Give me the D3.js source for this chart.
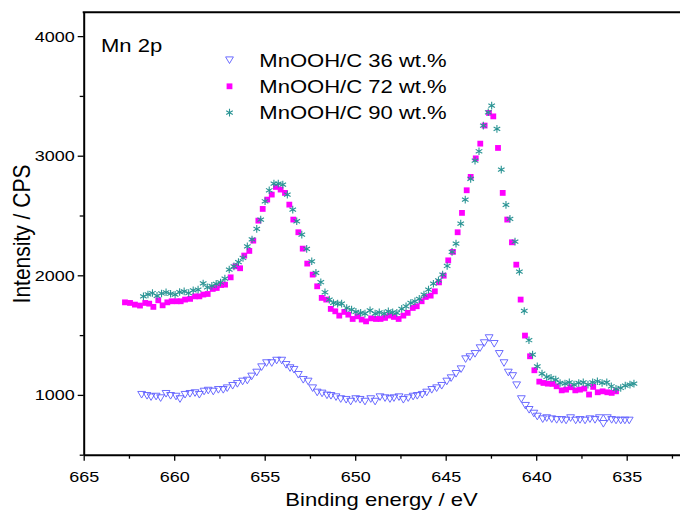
<!DOCTYPE html>
<html>
<head>
<meta charset="utf-8">
<script src="https://cdn.jsdelivr.net/npm/d3@7"></script>
<style>
  html, body { margin: 0; padding: 0; background: #fff; }
  svg { display: block; font-family: "Liberation Sans", Arial, sans-serif; }
</style>
</head>
<body>
<div id="chart"></div>
<script>
// readings: [binding energy (eV), intensity (CPS)]
const mn36 = [
  [661.8,1003],[661.5,994],[661.28,983],[661.0,988],[660.75,975],[660.45,1011],[660.2,994],[659.9,988],
  [659.68,967],[659.4,1003],[659.13,1011],[658.85,1017],[658.61,1003],[658.35,1030],[658.12,1038],[657.84,1030],
  [657.56,1044],[657.29,1044],[657.07,1058],[656.77,1078],[656.51,1094],[656.22,1114],[655.96,1122],[655.72,1156],
  [655.44,1189],[655.17,1234],[654.9,1268],[654.61,1268],[654.34,1289],[654.06,1289],[653.82,1253],[653.6,1226],
  [653.38,1212],[653.14,1170],[652.87,1128],[652.6,1114],[652.35,1058],[652.1,1022],[651.83,1014],[651.56,998],
  [651.34,994],[651.06,983],[650.8,967],[650.5,961],[650.25,946],[649.97,967],[649.73,961],[649.46,946],
  [649.14,967],[648.9,946],[648.63,983],[648.35,975],[648.08,967],[647.86,975],[647.58,983],[647.34,961],
  [647.07,975],[646.8,988],[646.57,994],[646.3,1003],[646.05,1022],[645.77,1044],[645.5,1058],[645.22,1078],
  [644.94,1114],[644.7,1142],[644.43,1178],[644.15,1217],[643.9,1301],[643.66,1318],[643.38,1345],[643.1,1393],
  [642.87,1435],[642.6,1477],[642.32,1429],[642.04,1345],[641.78,1268],[641.54,1189],[641.3,1160],[641.08,1083],
  [640.82,967],[640.59,911],[640.39,877],[640.13,846],[639.94,821],[639.64,799],[639.42,808],[639.14,799],
  [638.87,793],[638.59,793],[638.35,788],[638.1,808],[637.82,788],[637.58,793],[637.3,788],[637.03,799],
  [636.75,793],[636.51,808],[636.29,760],[636.07,808],[635.83,793],[635.59,788],[635.33,788],[635.1,788],
  [634.86,788]
];

const mn72 = [
  [662.72,1774],[662.44,1769],[662.17,1755],[661.89,1747],[661.6,1769],[661.38,1763],[661.15,1736],[660.88,1791],
  [660.64,1749],[660.38,1774],[660.14,1783],[659.86,1783],[659.64,1783],[659.4,1797],[659.12,1803],[658.85,1824],
  [658.61,1824],[658.39,1839],[658.15,1844],[657.87,1886],[657.65,1894],[657.41,1919],[657.19,1922],[656.88,1983],
  [656.62,2075],[656.36,2059],[656.13,2165],[655.85,2204],[655.63,2290],[655.35,2457],[655.11,2555],[654.86,2633],
  [654.61,2675],[654.38,2739],[654.12,2717],[653.88,2689],[653.64,2591],[653.42,2466],[653.14,2360],[652.9,2223],
  [652.65,2098],[652.35,2006],[652.1,1908],[651.85,1811],[651.6,1797],[651.35,1719],[651.1,1699],[650.88,1663],
  [650.6,1694],[650.38,1671],[650.14,1635],[649.88,1657],[649.64,1630],[649.4,1615],[649.12,1640],[648.85,1635],
  [648.6,1635],[648.35,1644],[648.1,1663],[647.86,1652],[647.6,1635],[647.34,1663],[647.1,1686],[646.82,1727],
  [646.6,1741],[646.33,1783],[646.1,1819],[645.83,1830],[645.6,1866],[645.37,1941],[645.11,1997],[644.86,2125],
  [644.6,2196],[644.34,2360],[644.1,2522],[643.84,2711],[643.62,2823],[643.34,2978],[643.09,3101],[642.85,3252],
  [642.61,3358],[642.37,3329],[642.11,3065],[641.85,2689],[641.6,2466],[641.34,2276],[641.1,2089],[640.86,1797],
  [640.62,1496],[640.34,1323],[640.1,1206],[639.83,1111],[639.6,1100],[639.36,1094],[639.1,1092],[638.87,1072],
  [638.59,1038],[638.35,1044],[638.1,1064],[637.84,1038],[637.58,1044],[637.34,1053],[637.08,1003],[636.85,1067],
  [636.6,1022],[636.33,1030],[636.07,1022],[635.83,1017],[635.59,1030]
];

const mn90 = [
  [661.7,1824],[661.45,1840],[661.2,1852],[660.95,1828],[660.7,1848],[660.45,1858],[660.2,1846],[659.95,1838],
  [659.7,1860],[659.45,1866],[659.2,1852],[658.95,1874],[658.68,1880],[658.4,1932],[658.17,1900],[657.92,1912],
  [657.68,1928],[657.44,1940],[657.2,1972],[656.96,2048],[656.7,2075],[656.45,2110],[656.2,2145],[655.96,2242],
  [655.7,2300],[655.44,2388],[655.22,2466],[654.98,2619],[654.75,2711],[654.49,2767],[654.25,2767],[654.0,2758],
  [653.75,2675],[653.45,2549],[653.23,2452],[652.95,2340],[652.68,2221],[652.4,2117],[652.17,2020],[651.9,1942],
  [651.67,1858],[651.43,1797],[651.2,1769],[650.97,1763],[650.75,1763],[650.47,1727],[650.2,1713],[649.96,1694],
  [649.7,1686],[649.46,1680],[649.18,1707],[648.9,1680],[648.67,1690],[648.4,1680],[648.17,1699],[647.93,1690],
  [647.7,1686],[647.43,1719],[647.19,1741],[646.93,1769],[646.7,1783],[646.46,1803],[646.2,1839],[645.95,1880],
  [645.68,1930],[645.4,1958],[645.17,2006],[644.92,2078],[644.65,2196],[644.43,2265],[644.17,2432],[643.92,2633],
  [643.62,2806],[643.38,2959],[643.16,3037],[642.92,3252],[642.65,3363],[642.46,3419],[642.17,3224],[641.93,2884],
  [641.67,2589],[641.45,2472],[641.17,2282],[640.93,2031],[640.66,1702],[640.4,1457],[640.2,1337],[639.94,1239],
  [639.68,1178],[639.42,1150],[639.18,1142],[638.92,1128],[638.68,1100],[638.41,1094],[638.17,1105],[637.91,1086],
  [637.65,1100],[637.4,1105],[637.14,1086],[636.88,1105],[636.62,1114],[636.36,1100],[636.1,1105],[635.85,1072],
  [635.59,1050],[635.33,1058],[635.08,1078],[634.82,1086],[634.6,1094]
];

const seriesNames = ["MnOOH/C 36 wt.%", "MnOOH/C 72 wt.%", "MnOOH/C 90 wt.%"];
const xMajor = [665, 660, 655, 650, 645, 640, 635];
const xMinor = [662.5, 657.5, 652.5, 647.5, 642.5, 637.5, 632.5];
const yMajor = [1000, 2000, 3000, 4000];
const yMinor = [500, 1500, 2500, 3500];

// the source picture is a bit wide: stretch text horizontally to match
const stretch = 1.16;
function widen(sel) {
  sel.each(function() {
    const w = this.getComputedTextLength();
    d3.select(this).attr("textLength", w * stretch).attr("lengthAdjust", "spacingAndGlyphs");
  });
}

const W = 680, H = 513;
const plot = { left: 83.7, right: 717.2, top: 12.2, bottom: 454.7 };

const x = d3.scaleLinear().domain([665, 630]).range([plot.left, plot.right]);
const y = d3.scaleLinear().domain([500, 4200]).range([plot.bottom, plot.top]);

const svg = d3.select("#chart").append("svg")
  .attr("width", W).attr("height", H);

// marker styles
const markers = [
  { path: "M-3.9,-3.1 L3.9,-3.1 L0,3.5 Z", fill: "none", stroke: "#5c5cff", sw: 0.9 },
  { path: "M-2.9,-2.9 h5.8 v5.8 h-5.8 Z", fill: "#ff00ff", stroke: "none", sw: 0 },
  { path: "M0,-3.8 V3.8 M-3.3,-1.9 L3.3,1.9 M-3.3,1.9 L3.3,-1.9", fill: "none", stroke: "#2a9494", sw: 1.1 }
];

function drawSeries(data, m) {
  svg.append("g").selectAll("path")
    .data(data)
    .join("path")
    .attr("transform", d => `translate(${x(d[0])},${y(d[1])})`)
    .attr("d", m.path)
    .attr("fill", m.fill)
    .attr("stroke", m.stroke)
    .attr("stroke-width", m.sw);
}

drawSeries(mn36, markers[0]);
drawSeries(mn72, markers[1]);
drawSeries(mn90, markers[2]);

// axes
svg.append("g")
  .attr("transform", `translate(0,${plot.bottom})`)
  .call(d3.axisBottom(x).tickValues(xMajor).tickSize(6).tickSizeOuter(0).tickPadding(10).tickFormat(d3.format("d")));
svg.append("g")
  .attr("transform", `translate(0,${plot.bottom})`)
  .call(d3.axisBottom(x).tickValues(xMinor).tickSize(4).tickSizeOuter(0).tickFormat(""))
  .select(".domain").remove();

svg.append("g")
  .attr("transform", `translate(${plot.left},0)`)
  .call(d3.axisLeft(y).tickValues(yMajor).tickSize(6).tickSizeOuter(0).tickPadding(3).tickFormat(d3.format("d")));
svg.append("g")
  .attr("transform", `translate(${plot.left},0)`)
  .call(d3.axisLeft(y).tickValues(yMinor).tickSize(4).tickSizeOuter(0).tickFormat(""))
  .select(".domain").remove();

svg.selectAll(".domain").attr("stroke", "#000").attr("stroke-width", 2);
svg.selectAll(".tick line").attr("stroke", "#000").attr("stroke-width", 1.3);
svg.selectAll(".tick text")
  .attr("fill", "#000")
  .style("font-size", "15.5px")
  .style("font-family", "'Liberation Sans', Arial, sans-serif")
  .call(widen);

// top frame line
svg.append("line")
  .attr("x1", plot.left - 1).attr("x2", plot.right)
  .attr("y1", plot.top).attr("y2", plot.top)
  .attr("stroke", "#000").attr("stroke-width", 2);

// axis titles
svg.append("text")
  .attr("x", 381.5).attr("y", 506)
  .attr("text-anchor", "middle")
  .style("font-size", "19px")
  .text("Binding energy / eV")
  .call(widen);

svg.append("text")
  .attr("transform", `translate(30,234) scale(${stretch},1) rotate(-90)`)
  .attr("text-anchor", "middle")
  .style("font-size", "21px")
  .text("Intensity / CPS");

// panel label
svg.append("text")
  .attr("x", 101).attr("y", 51.7)
  .style("font-size", "19px")
  .text("Mn 2p")
  .call(widen);

// legend
const legend = svg.append("g").attr("transform", "translate(229.5,60)");
seriesNames.forEach((name, i) => {
  const row = legend.append("g").attr("transform", `translate(0,${i * 26.3})`);
  const m = markers[i];
  row.append("path")
    .attr("d", m.path)
    .attr("fill", m.fill)
    .attr("stroke", m.stroke)
    .attr("stroke-width", m.sw);
  row.append("text")
    .attr("x", 29.8).attr("y", 6.7)
    .style("font-size", "19px")
    .text(name)
    .call(widen);
});
</script>
</body>
</html>
